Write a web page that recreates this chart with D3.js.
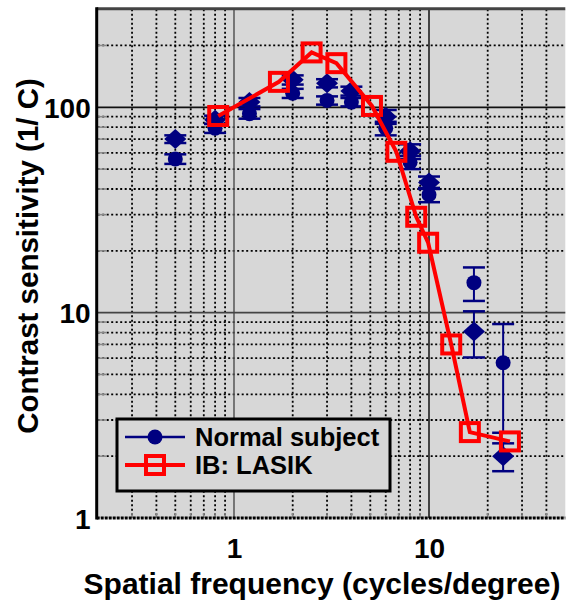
<!DOCTYPE html>
<html>
<head>
<meta charset="utf-8">
<script src="https://cdn.jsdelivr.net/npm/d3@7"></script>
<style>
  body { margin: 0; background: #fff; }
  text { font-family: "Liberation Sans", Arial, sans-serif; font-weight: bold; }
</style>
</head>
<body>
<svg id="chart"></svg>
<script>
// spatial frequencies (cycles/degree)
const normalFreq = [0.5, 0.8, 1.2, 2, 3, 4, 6, 8, 10, 17, 24];
// normal subject, circle markers
const normalCircle = [56, 79, 93, 117, 108, 106, 79, 54, 37.5, 14, 5.7];
const normalCircleErr = [3, 4, 5, 6, 5, 5, 6, 4, 3, 2.6, 3.1];
// normal subject, diamond markers
const normalDiamond = [70, 87, 106, 136, 131, 120, 90, 61, 43, 8.1, 2.0];
const normalDiamondErr = [3, 4, 5, 7, 6, 6, 7, 5, 3, 2.05, 0.31];
// IB: LASIK
const lasikFreq = [0.83, 1.7, 2.5, 3.35, 5.1, 6.8, 8.6, 9.9, 13, 16.2, 26];
const lasikCS = [90.7, 133, 185, 164, 101.5, 60.7, 29.3, 21.9, 7.0, 2.62, 2.36];

const xTickLabels = [1, 10];
const yTickLabels = [1, 10, 100];

const width = 566, height = 603;
const svg = d3.select('#chart').attr('width', width).attr('height', height);

const x = d3.scaleLog().domain([0.2, 50]).range([97.7, 565.3]);
const y = d3.scaleLog().domain([1, 300]).range([518, 9.3]);

const pLeft = x.range()[0], pRight = x.range()[1];
const pTop = y.range()[1], pBottom = y.range()[0];

// plot background
svg.append('rect')
    .attr('x', pLeft).attr('y', pTop)
    .attr('width', pRight - pLeft).attr('height', pBottom - pTop)
    .attr('fill', '#d7d7d7');

const isMajor = v => Math.abs(Math.log10(v) - Math.round(Math.log10(v))) < 1e-6;
const xMinor = x.ticks().filter(v => !isMajor(v) && v > 0.2 && v < 50);
const yMinor = y.ticks().filter(v => !isMajor(v) && v < 300);

const grid = svg.append('g');

grid.selectAll('.gx').data(xMinor).enter().append('line')
    .attr('x1', d => x(d)).attr('x2', d => x(d))
    .attr('y1', pTop).attr('y2', pBottom)
    .attr('stroke', '#000').attr('stroke-width', 1.8)
    .attr('stroke-dasharray', '2,2.5');

grid.selectAll('.gy').data(yMinor).enter().append('line')
    .attr('x1', pLeft).attr('x2', pRight)
    .attr('y1', d => y(d)).attr('y2', d => y(d))
    .attr('stroke', '#000').attr('stroke-width', 1.8)
    .attr('stroke-dasharray', '2,2.5');

// minor tick marks
grid.selectAll('.ty').data(yMinor).enter().append('line')
    .attr('x1', pLeft).attr('x2', pLeft + 9)
    .attr('y1', d => y(d)).attr('y2', d => y(d))
    .attr('stroke', '#888').attr('stroke-width', 1.5);

grid.selectAll('.tx').data(xMinor).enter().append('line')
    .attr('x1', d => x(d)).attr('x2', d => x(d))
    .attr('y1', pBottom).attr('y2', pBottom - 5)
    .attr('stroke', '#888').attr('stroke-width', 1.5);

// major grid
grid.selectAll('.mx').data(xTickLabels).enter().append('line')
    .attr('x1', d => x(d)).attr('x2', d => x(d))
    .attr('y1', pTop).attr('y2', pBottom)
    .attr('stroke', (d, i) => i === 0 ? '#555' : '#111').attr('stroke-width', 1.5);

grid.selectAll('.my').data([10, 100]).enter().append('line')
    .attr('x1', pLeft).attr('x2', pRight)
    .attr('y1', d => y(d)).attr('y2', d => y(d))
    .attr('stroke', (d, i) => i === 0 ? '#444' : '#111').attr('stroke-width', 1.8);

// frame
svg.append('line').attr('x1', pLeft - 1).attr('x2', pRight).attr('y1', pTop - 0.5).attr('y2', pTop - 0.5)
    .attr('stroke', '#444').attr('stroke-width', 3);
svg.append('line').attr('x1', pLeft - 1).attr('x2', pRight).attr('y1', pBottom).attr('y2', pBottom)
    .attr('stroke', '#000').attr('stroke-width', 3).attr('stroke-dasharray', '3,1');
svg.append('line').attr('x1', pLeft - 1).attr('x2', pLeft - 1).attr('y1', pTop - 2).attr('y2', pBottom + 1.5)
    .attr('stroke', '#000').attr('stroke-width', 3);

// axes
const yAxis = d3.axisLeft(y).tickValues(yTickLabels).tickFormat(d3.format('d')).tickSize(0).tickPadding(6);
const xAxis = d3.axisBottom(x).tickValues(xTickLabels).tickFormat(d3.format('d')).tickSize(0).tickPadding(20);

const yg = svg.append('g').attr('transform', `translate(${pLeft - 1},0)`).call(yAxis);
const xg = svg.append('g').attr('transform', `translate(0,${pBottom})`).call(xAxis);
[yg, xg].forEach(g => {
    g.select('.domain').remove();
    g.selectAll('text').attr('font-size', 28).attr('fill', '#000')
        .attr('font-family', '"Liberation Sans", Arial, sans-serif').attr('font-weight', 'bold');
});
yg.selectAll('text').attr('dy', '0.36em');

// axis titles
svg.append('text')
    .attr('x', 322).attr('y', 594)
    .attr('text-anchor', 'middle').attr('font-size', 30)
    .text('Spatial frequency (cycles/degree)');

svg.append('text')
    .attr('transform', 'translate(38,256) rotate(-90)')
    .attr('text-anchor', 'middle').attr('font-size', 29.5)
    .text('Contrast sensitivity (1/ C)');

// normal subject markers
const navy = '#000080';
const normalData = normalFreq.map((f, i) => ({
    f, c: normalCircle[i], ce: normalCircleErr[i], d: normalDiamond[i], de: normalDiamondErr[i]
}));

const marks = svg.append('g');
const errBar = (g, val, err) => {
    g.append('line')
        .attr('x1', d => x(d.f)).attr('x2', d => x(d.f))
        .attr('y1', d => y(d[val] + d[err])).attr('y2', d => y(d[val] - d[err]))
        .attr('stroke', navy).attr('stroke-width', 2);
    ['+', '-'].forEach(s => {
        g.append('line')
            .attr('x1', d => x(d.f) - 11).attr('x2', d => x(d.f) + 11)
            .attr('y1', d => y(s === '+' ? d[val] + d[err] : d[val] - d[err]))
            .attr('y2', d => y(s === '+' ? d[val] + d[err] : d[val] - d[err]))
            .attr('stroke', navy).attr('stroke-width', 2.5);
    });
};

const pts = marks.selectAll('g').data(normalData).enter().append('g');
errBar(pts, 'd', 'de');
errBar(pts, 'c', 'ce');
pts.append('path')
    .attr('d', d => `M${x(d.f)},${y(d.d) - 10}l11,10l-11,10l-11,-10z`)
    .attr('fill', navy);
pts.append('circle')
    .attr('cx', d => x(d.f)).attr('cy', d => y(d.c)).attr('r', 7.5)
    .attr('fill', navy);

// LASIK line and squares
const lasikData = lasikFreq.map((f, i) => ({ f, v: lasikCS[i] }));
const line = d3.line().x(d => x(d.f)).y(d => y(d.v));
svg.append('path')
    .attr('d', line(lasikData))
    .attr('fill', 'none').attr('stroke', '#ff0000').attr('stroke-width', 4);

svg.selectAll('.sq').data(lasikData).enter().append('rect')
    .attr('x', d => x(d.f) - 9).attr('y', d => y(d.v) - 9)
    .attr('width', 18).attr('height', 18)
    .attr('fill', 'none').attr('stroke', '#ff0000').attr('stroke-width', 4);

// legend
const lg = svg.append('g');
lg.append('rect')
    .attr('x', 117).attr('y', 419).attr('width', 273).attr('height', 72)
    .attr('fill', '#d7d7d7').attr('stroke', '#000').attr('stroke-width', 3);
lg.append('line').attr('x1', 125).attr('x2', 185).attr('y1', 437).attr('y2', 437)
    .attr('stroke', navy).attr('stroke-width', 2.5);
lg.append('circle').attr('cx', 155).attr('cy', 437).attr('r', 7.5).attr('fill', navy);
lg.append('line').attr('x1', 125).attr('x2', 185).attr('y1', 465).attr('y2', 465)
    .attr('stroke', '#ff0000').attr('stroke-width', 4);
lg.append('rect').attr('x', 146).attr('y', 456).attr('width', 18).attr('height', 18)
    .attr('fill', 'none').attr('stroke', '#ff0000').attr('stroke-width', 4);
lg.append('text').attr('x', 195).attr('y', 446).attr('font-size', 25.5).text('Normal subject');
lg.append('text').attr('x', 195).attr('y', 474).attr('font-size', 25.5).text('IB: LASIK');
</script>
</body>
</html>
